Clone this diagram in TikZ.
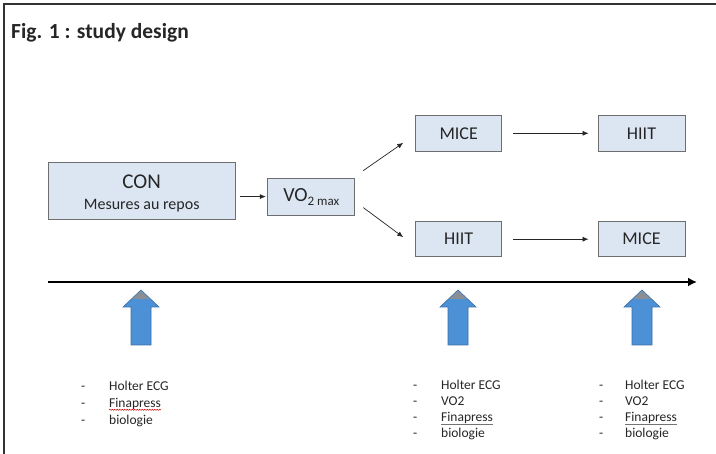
\documentclass[tikz,border=0pt]{standalone}
\usepackage{fontspec}
\setmainfont{Carlito}
\usetikzlibrary{arrows.meta,decorations.pathmorphing}
\definecolor{boxfill}{HTML}{DCE6F2}
\definecolor{boxline}{HTML}{6E6E6E}
\definecolor{arrowblue}{HTML}{4C90D6}
\definecolor{arrowedge}{HTML}{3A6FA8}
\definecolor{tipgray}{HTML}{8A8F96}
\definecolor{textgray}{HTML}{262626}
\begin{document}
\begin{tikzpicture}[x=1pt,y=-1pt,
  box/.style={draw=boxline, fill=boxfill, line width=0.9pt, inner sep=0pt, text=textgray},
  bigtxt/.style={font=\fontsize{18}{20}\selectfont},
  link/.style={-{Latex[length=6pt,width=5pt]}, line width=0.7pt, draw=black!85},
  item/.style={anchor=west, inner sep=0pt, text height=9pt, text depth=3pt, text=textgray, font=\fontsize{13.5}{15}\selectfont},
  bluearrow/.pic={
    \draw[fill=arrowblue, draw=arrowedge, line width=0.6pt]
      (-10,55) -- (-10,17) -- (-18,17) -- (0,0) -- (18,17) -- (10,17) -- (10,55) -- cycle;
    \fill[tipgray] (0,0.8) -- (-8.5,8.8) -- (8.5,8.8) -- cycle;
  }]
\useasboundingbox (0,0) rectangle (716,454);
\fill[white] (0,0) rectangle (716,454);
\draw[line width=2pt, black!80] (4,454) -- (4,4) -- (716,4);

\node[anchor=west, inner sep=0pt, text=textgray, font=\bfseries\fontsize{21.5}{24}\selectfont] (title) at (11,33) {Fig. 1 : study design};

% boxes
\node[box, minimum width=187, minimum height=57] (con) at (141.7,190.8) {};
\node[inner sep=0pt, text=textgray, font=\fontsize{21}{22}\selectfont] (contitle) at (141.7,182) {CON};
\node[inner sep=0pt, text=textgray, font=\fontsize{16}{18}\selectfont] (consub) at (141.7,205.5) {Mesures au repos};
\node[box, minimum width=87, minimum height=37, font=\fontsize{20}{22}\selectfont] (vo2) at (311.3,196.6)
  {VO\raisebox{-4pt}{\fontsize{13}{14}\selectfont 2 max}};
\node[box, bigtxt, minimum width=86, minimum height=36.5] (mice1) at (458.7,133.3) {MICE};
\node[box, bigtxt, minimum width=87, minimum height=36.5] (hiit1) at (641.5,133.3) {HIIT};
\node[box, bigtxt, minimum width=86, minimum height=35] (hiit2) at (458.7,239.2) {HIIT};
\node[box, bigtxt, minimum width=87, minimum height=35] (mice2) at (641.5,239.2) {MICE};

% connectors
\draw[link, shorten <=4pt, shorten >=1.5pt] (con.east |- vo2.west) -- (vo2.west);
\draw[link] ([shift={(8,-7)}]vo2.north east) -- ([shift={(-12,9.5)}]mice1.west);
\draw[link] ([shift={(8,-8)}]vo2.south east) -- ([shift={(-12,-2)}]hiit2.west);
\draw[link, shorten <=11pt, shorten >=9pt] (mice1.east) -- (hiit1.west);
\draw[link, shorten <=11pt, shorten >=9pt] (hiit2.east) -- (mice2.west);

% timeline
\coordinate (t0) at (48,282);
\coordinate (t1) at (697,282);
\draw[line width=2.6pt, -{Latex[length=9pt,width=9pt]}] (t0) -- (t1);

% blue arrows
\pic at (141,290) {bluearrow};
\pic at (458,290) {bluearrow};
\pic at (642,290) {bluearrow};

% list 1
\foreach \txt [count=\i] in {Holter ECG, Finapress, biologie} {
  \node[item] (a\i) at (109,{388+16.6*(\i-1)}) {\txt};
  \node[item] (ad\i) at (81,{388+16.6*(\i-1)}) {-};
}
% list 2
\foreach \txt [count=\i] in {Holter ECG, VO2, Finapress, biologie} {
  \node[item] (b\i) at (441,{387+16*(\i-1)}) {\txt};
  \node[item] (bd\i) at (413,{387+16*(\i-1)}) {-};
}
% list 3
\foreach \txt [count=\i] in {Holter ECG, VO2, Finapress, biologie} {
  \node[item] (c\i) at (625,{387+16*(\i-1)}) {\txt};
  \node[item] (cd\i) at (599,{387+16*(\i-1)}) {-};
}
% spell-check underlines
\draw[red!80!black, line width=0.5pt, decorate, decoration={snake, amplitude=0.6pt, segment length=2.5pt}]
  ([yshift=1pt]a2.south west) -- ([yshift=1pt]a2.south east);
\draw[black!55, line width=0.5pt] ([yshift=0.5pt]b3.south west) -- ([yshift=0.5pt]b3.south east);
\draw[black!55, line width=0.5pt] ([yshift=0.5pt]c3.south west) -- ([yshift=0.5pt]c3.south east);
\end{tikzpicture}
\end{document}
